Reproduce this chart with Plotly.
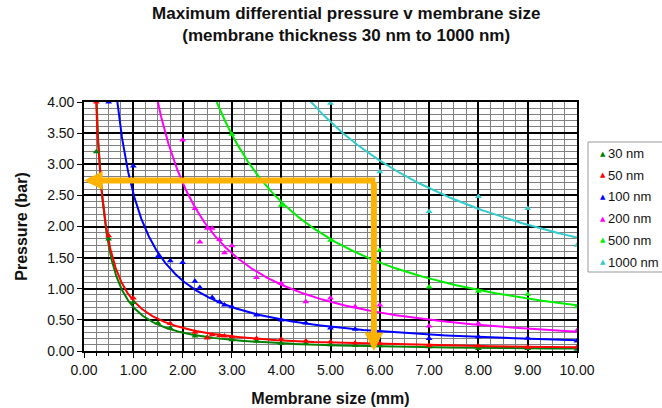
import numpy as np
import plotly.graph_objects as go

# ---- data ----
x30 = [0.25, 0.5, 1.0, 1.5, 1.75, 2.25, 2.5, 3.0, 3.5, 4.0, 4.5, 5.0, 5.5, 6.0, 7.0, 8.0, 9.0, 10.0]
y30 = [3.2, 1.8, 0.78, 0.45, 0.37, 0.24, 0.22, 0.18, 0.16, 0.12, 0.12, 0.10, 0.09, 0.085, 0.07, 0.04, 0.04, 0.03]

x50 = [0.25, 0.5, 1.0, 1.75, 2.25, 2.5, 2.6, 2.75, 2.85, 3.0, 3.5, 4.0, 4.5, 5.0, 5.5, 6.0, 7.0, 8.0, 9.0, 10.0]
y50 = [4.0, 1.85, 0.85, 0.44, 0.30, 0.21, 0.26, 0.25, 0.24, 0.23, 0.20, 0.19, 0.16, 0.15, 0.13, 0.12, 0.09, 0.08, 0.06, 0.06]

x100 = [0.5, 1.0, 1.5, 1.75, 2.0, 2.25, 2.35, 2.6, 2.75, 2.85, 3.0, 3.5, 4.0, 4.5, 5.0, 5.5, 6.0, 7.0, 8.0, 9.0, 10.0]
y100 = [4.0, 2.97, 1.52, 1.45, 1.42, 1.12, 1.02, 0.86, 0.79, 0.74, 0.71, 0.58, 0.50, 0.45, 0.37, 0.35, 0.31, 0.20, 0.23, 0.21, 0.16]

x200 = [2.0, 2.25, 2.35, 2.5, 2.6, 2.75, 2.85, 3.0, 3.5, 4.0, 4.5, 5.0, 5.5, 6.0, 7.0, 8.0, 10.0]
y200 = [3.39, 2.29, 1.75, 1.97, 1.97, 1.79, 1.58, 1.69, 1.18, 1.09, 0.79, 0.85, 0.71, 0.74, 0.40, 0.44, 0.33]

x500 = [3.0, 4.0, 5.0, 6.0, 7.0, 8.0, 9.0, 10.0]
y500 = [3.48, 2.34, 1.78, 1.62, 1.03, 0.96, 0.91, 0.71]

x1000 = [5.0, 6.0, 7.0, 8.0, 9.0, 10.0]
y1000 = [3.98, 2.88, 2.24, 2.48, 2.29, 1.70]

names = ["30 nm", "50 nm", "100 nm", "200 nm", "500 nm", "1000 nm"]
colors = ["#008000", "#FF0000", "#0000FF", "#FF00FF", "#00EE00", "#33CCCC"]

# reading guide (orange arrows)
guide_x = 5.88
guide_y = 2.74

title_text = "<b>Maximum differential pressure v membrane size<br>(membrane thickness 30 nm to 1000 nm)</b>"
x_title = "<b>Membrane size (mm)</b>"
y_title = "<b>Pressure (bar)</b>"

FONT = "Liberation Sans, Arial, sans-serif"
ORANGE = "#FFB300"
W, H = 662, 408
L, R, T, B = 84, 85, 102, 57
PW = W - L - R
PH = H - T - B

xs_all = [x30, x50, x100, x200, x500, x1000]
ys_all = [y30, y50, y100, y200, y500, y1000]

fig = go.Figure()

# power-law trendlines fitted from the points (as Excel does)
xfit = np.linspace(0.1, 10, 1200)
for xs, ys, col in zip(xs_all, ys_all, colors):
    b, lna = np.polyfit(np.log(xs), np.log(ys), 1)
    yfit = np.exp(lna) * xfit ** b
    fig.add_trace(go.Scatter(x=xfit, y=yfit, mode="lines",
                             line=dict(color=col, width=2),
                             showlegend=False, hoverinfo="skip"))

for xs, ys, col, nm in zip(xs_all, ys_all, colors, names):
    fig.add_trace(go.Scatter(x=xs, y=ys, mode="markers", name=nm, showlegend=False,
                             marker=dict(symbol="triangle-up", size=6, color=col,
                                         line=dict(width=0))))

# orange arrows
fig.add_annotation(x=0, y=guide_y, ax=guide_x + 0.06, ay=guide_y,
                   xref="x", yref="y", axref="x", ayref="y", text="",
                   showarrow=True, arrowhead=2, arrowsize=0.62, arrowwidth=6,
                   arrowcolor=ORANGE, standoff=0)
fig.add_annotation(x=guide_x, y=0, ax=guide_x, ay=guide_y,
                   xref="x", yref="y", axref="x", ayref="y", text="",
                   showarrow=True, arrowhead=2, arrowsize=0.62, arrowwidth=6,
                   arrowcolor=ORANGE, standoff=0)

# legend box (drawn manually so it sits like the original)
def px_x(p):
    return (p - L) / PW


def px_y(p):
    return 1 - (p - T) / PH


fig.add_shape(type="rect", xref="paper", yref="paper",
              x0=px_x(588), x1=px_x(675), y0=px_y(272), y1=px_y(142),
              line=dict(color="#9a9a9a", width=1), fillcolor="white", layer="above")
for i, (nm, col) in enumerate(zip(names, colors)):
    yy = px_y(153.5 + i * 21.7)
    fig.add_annotation(xref="paper", yref="paper", x=px_x(598), y=yy,
                       xanchor="left", yanchor="middle", showarrow=False,
                       text=f"<span style='color:{col}'>▲</span>",
                       font=dict(family="DejaVu Sans", size=7))
    fig.add_annotation(xref="paper", yref="paper", x=px_x(606), y=yy,
                       xanchor="left", yanchor="middle", showarrow=False,
                       text=nm, font=dict(family=FONT, size=13, color="#111111"))

axis_common = dict(
    showgrid=True, gridcolor="#000000", gridwidth=1.6,
    showline=True, linecolor="#000000", linewidth=1.6, mirror=True,
    ticks="outside", ticklen=5, tickcolor="#000000", tickwidth=1.3,
    zeroline=False, tickformat=".2f", automargin=False,
    tickfont=dict(family=FONT, size=14, color="#111111"),
)

fig.update_layout(
    width=W, height=H,
    margin=dict(l=L, r=R, t=T, b=B, autoexpand=False),
    paper_bgcolor="white", plot_bgcolor="white",
    font=dict(family=FONT, color="#111111"),
    title=dict(text=title_text, x=0.523, xref="container", xanchor="center",
               y=1 - 19 / 408, yref="container", yanchor="middle",
               font=dict(family=FONT, size=17, color="#111111")),
    xaxis=dict(range=[0, 10], dtick=1, tick0=0,
               minor=dict(dtick=0.25, showgrid=True, gridcolor="#808080", gridwidth=1,
                          ticks="outside", ticklen=3, tickcolor="#000000"),
               title=dict(text=x_title, font=dict(family=FONT, size=16, color="#111111"),
                          standoff=16),
               **axis_common),
    yaxis=dict(range=[0, 4], dtick=0.5, tick0=0,
               minor=dict(dtick=0.1, showgrid=True, gridcolor="#808080", gridwidth=1),
               title=dict(text=y_title, font=dict(family=FONT, size=16, color="#111111"),
                          standoff=16),
               **axis_common),
    showlegend=False,
)

fig.write_html("out.html")
